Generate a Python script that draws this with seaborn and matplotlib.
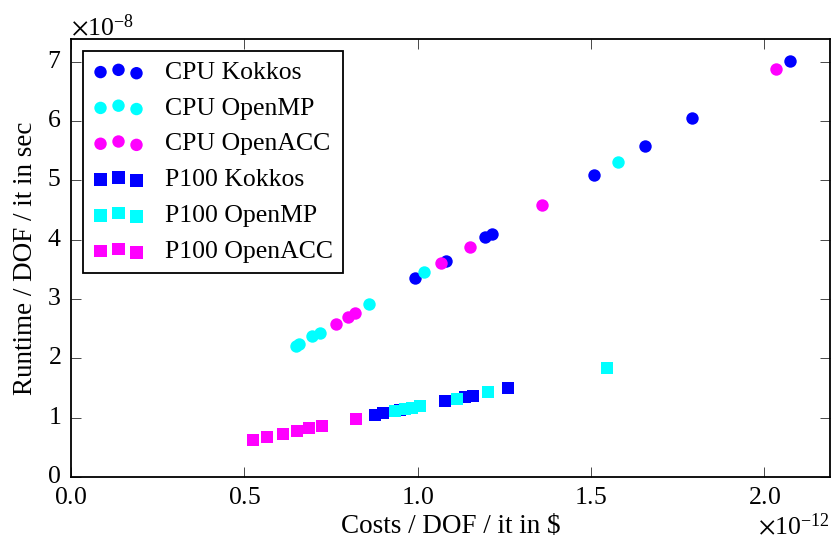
import matplotlib
matplotlib.use("Agg")
import matplotlib.pyplot as plt
import seaborn as sns
import pandas as pd
from matplotlib.ticker import ScalarFormatter

# values shown in units of 1e-12 $ (x) and 1e-8 s (y)
cpu_kokkos_x = [0.993, 1.081, 1.195, 1.215, 1.510, 1.657, 1.792, 2.075]
cpu_kokkos_y = [3.35, 3.65, 4.04, 4.10, 5.10, 5.59, 6.05, 7.01]
cpu_openmp_x = [0.650, 0.659, 0.695, 0.719, 0.861, 1.020, 1.577]
cpu_openmp_y = [2.21, 2.24, 2.37, 2.43, 2.92, 3.45, 5.32]
cpu_openacc_x = [0.764, 0.800, 0.820, 1.068, 1.151, 1.359, 2.034]
cpu_openacc_y = [2.58, 2.70, 2.77, 3.61, 3.88, 4.59, 6.875]
p100_kokkos_x = [0.877, 0.901, 0.950, 1.079, 1.137, 1.159, 1.262]
p100_kokkos_y = [1.045, 1.074, 1.13, 1.287, 1.344, 1.37, 1.495]
p100_openmp_x = [0.935, 0.964, 0.983, 1.007, 1.113, 1.202, 1.547]
p100_openmp_y = [1.113, 1.14, 1.17, 1.197, 1.315, 1.428, 1.84]
p100_openacc_x = [0.526, 0.567, 0.611, 0.651, 0.687, 0.723, 0.822]
p100_openacc_y = [0.624, 0.67, 0.725, 0.776, 0.82, 0.855, 0.978]

labels = ["CPU Kokkos", "CPU OpenMP", "CPU OpenACC",
          "P100 Kokkos", "P100 OpenMP", "P100 OpenACC"]
xs = [cpu_kokkos_x, cpu_openmp_x, cpu_openacc_x, p100_kokkos_x, p100_openmp_x, p100_openacc_x]
ys = [cpu_kokkos_y, cpu_openmp_y, cpu_openacc_y, p100_kokkos_y, p100_openmp_y, p100_openacc_y]
colors = ["#0000ff", "#00ffff", "#ff00ff", "#0000ff", "#00ffff", "#ff00ff"]
markers = ["o", "o", "o", "s", "s", "s"]
XSCALE = 1e-12
YSCALE = 1e-8
FS = 18.5
LFS = 19.5

plt.style.use("classic")
plt.rcParams.update({
    "font.family": ["Liberation Serif", "DejaVu Serif"],
    "mathtext.fontset": "stix",
    "font.size": FS,
    "figure.facecolor": "white",
    "savefig.facecolor": "white",
    "axes.formatter.use_mathtext": True,
    "xtick.direction": "in",
    "ytick.direction": "in",
    "xtick.top": True,
    "ytick.right": True,
    "xtick.major.size": 7,
    "ytick.major.size": 7,
    "xtick.major.pad": 7,
    "ytick.major.pad": 7,
    "axes.linewidth": 1.3,
})

fig = plt.figure(figsize=(8.33, 5.44), dpi=100)
ax = fig.add_axes([0.0852, 0.1232, 0.9112, 0.8051])

for lab, x, y, c, m in zip(labels, xs, ys, colors, markers):
    df = pd.DataFrame({"x": [v * XSCALE for v in x], "y": [v * YSCALE for v in y]})
    sns.scatterplot(data=df, x="x", y="y", ax=ax, color=c, marker=m, s=80,
                    linewidth=0, label=lab)

ax.set_xlim(0, 2.19 * XSCALE)
ax.set_ylim(0, 7.386 * YSCALE)
ax.set_xticks([v * XSCALE for v in [0.0, 0.5, 1.0, 1.5, 2.0]])
ax.set_yticks([v * YSCALE for v in range(8)])
for axis in (ax.xaxis, ax.yaxis):
    fmt = ScalarFormatter(useMathText=True)
    fmt.set_useOffset(False)
    axis.set_major_formatter(fmt)
ax.ticklabel_format(style="sci", scilimits=(0, 0), axis="both")
ax.tick_params(labelsize=FS)
ax.xaxis.get_offset_text().set_fontsize(FS)
ax.yaxis.get_offset_text().set_fontsize(FS)

ax.set_xlabel(r"Costs / DOF / it in \$", fontsize=LFS, labelpad=4)
ax.set_ylabel("Runtime / DOF / it in sec", fontsize=LFS, labelpad=6)

leg = ax.legend(loc="upper left", scatterpoints=3, fontsize=FS, frameon=True,
                fancybox=False, borderaxespad=0.45)
leg.get_frame().set_edgecolor("black")
leg.get_frame().set_linewidth(1.3)

fig.savefig("out.png", dpi=100)
